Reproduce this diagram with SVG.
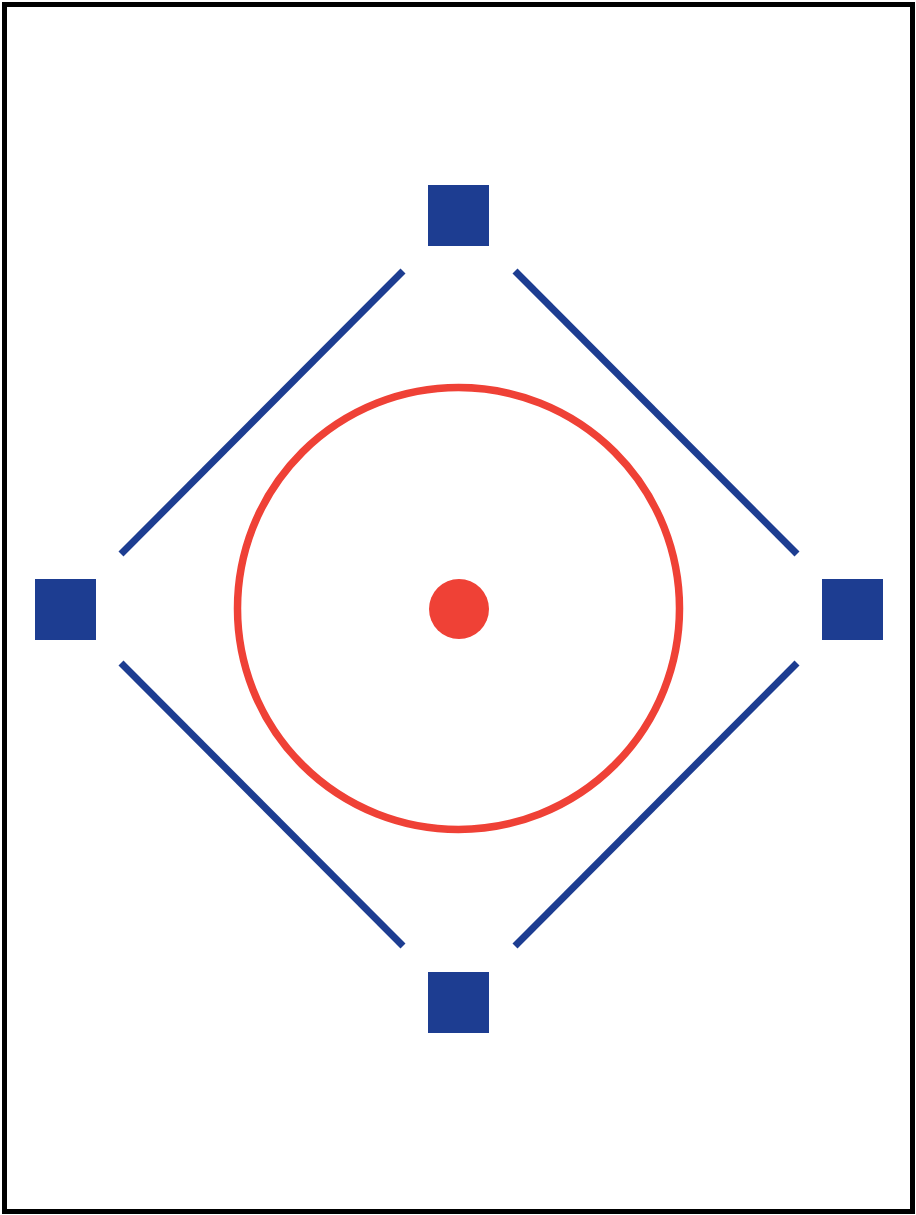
<svg xmlns="http://www.w3.org/2000/svg" width="916" height="1215" viewBox="0 0 916 1215">
<style>
.node{fill:#1d3d91}
.edge{stroke:#1d3d91;stroke-width:7;fill:none;stroke-linecap:butt}
.ring{stroke:#ef4136;stroke-width:7.5;fill:none}
.dot{fill:#ef4136}
</style>
<rect x="4.5" y="4.5" width="908" height="1207" fill="#fff" stroke="#000" stroke-width="5"/>
<g id="connectors">
<line class="edge" x1="121" y1="554" x2="403" y2="271"/>
<line class="edge" x1="515" y1="271" x2="797" y2="554"/>
<line class="edge" x1="121" y1="663" x2="403" y2="946"/>
<line class="edge" x1="515" y1="946" x2="797" y2="663"/>
</g>
<g id="ring"><circle class="ring" cx="458.5" cy="608.5" r="221"/></g>
<g id="center"><circle class="dot" cx="459" cy="609" r="30"/></g>
<g id="node-top"><rect class="node" x="428" y="185" width="61" height="61"/></g>
<g id="node-left"><rect class="node" x="35" y="579" width="61" height="61"/></g>
<g id="node-right"><rect class="node" x="822" y="579" width="61" height="61"/></g>
<g id="node-bottom"><rect class="node" x="428" y="972" width="61" height="61"/></g>
</svg>
